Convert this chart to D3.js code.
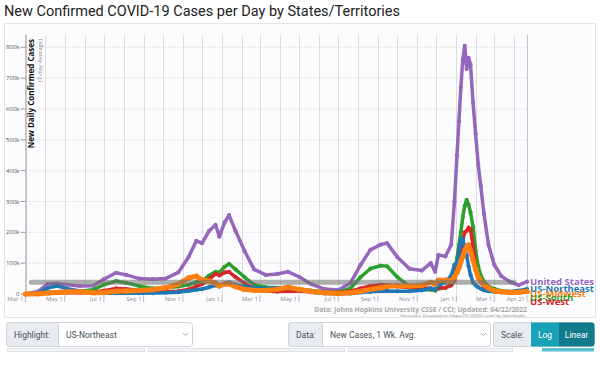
<!DOCTYPE html>
<html lang="en">
<head>
<meta charset="UTF-8">
<script src="https://cdn.jsdelivr.net/npm/d3@7"></script>
<style>
    body {margin: 0; background-color: #ffffff}
    svg {display: block}
    text {font-family: "Open Sans", sans-serif}
    .title {font-family: Roboto, sans-serif; font-size: 14.5px; fill: #222}
    .tick_label {font-size: 6px; fill: #8a8a8a}
    .y_tick_label {font-size: 6px; fill: #555}
    .legend_label {font-size: 9.5px; font-weight: bold}
    .ctrl_text {font-family: Roboto, sans-serif; font-size: 8.5px; fill: #495057}
</style>
</head>
<body>
<svg class="overall_chart" width="600" height="386"></svg>
<script type="text/javascript">
    // values in thousands of cases (7-day average)
    const dates = [
        "2020-03-01", "2020-03-20", "2020-04-05", "2020-04-20", "2020-05-05", "2020-05-25",
        "2020-06-15", "2020-07-01", "2020-07-20", "2020-08-05", "2020-08-25", "2020-09-15",
        "2020-10-05", "2020-10-25", "2020-11-10", "2020-11-22", "2020-12-01", "2020-12-12",
        "2020-12-22", "2020-12-28", "2021-01-05", "2021-01-12", "2021-01-22", "2021-02-05",
        "2021-02-20", "2021-03-10", "2021-03-28", "2021-04-14", "2021-05-01", "2021-05-20",
        "2021-06-10", "2021-07-01", "2021-07-20", "2021-08-05", "2021-08-20", "2021-09-05",
        "2021-09-15", "2021-10-01", "2021-10-20", "2021-11-08", "2021-11-22", "2021-11-29",
        "2021-12-04", "2021-12-15", "2021-12-24", "2021-12-29", "2022-01-02", "2022-01-05",
        "2022-01-08", "2022-01-11", "2022-01-14", "2022-01-17", "2022-01-20", "2022-01-23",
        "2022-01-27", "2022-01-31", "2022-02-04", "2022-02-08", "2022-02-13", "2022-02-20",
        "2022-03-01", "2022-03-12", "2022-03-25", "2022-04-08", "2022-04-21"
    ];
    const unitedStates = [
        0, 8, 33, 34, 30, 26, 27, 48, 69, 62, 50, 48,
        50, 70, 120, 172, 165, 205, 224, 186, 232, 256, 205, 140,
        80, 62, 65, 72, 56, 32, 16, 13, 35, 95, 143, 160,
        165, 120, 82, 76, 100, 72, 127, 122, 160, 300, 450, 560,
        670, 760, 805, 730, 766, 745, 620, 520, 420, 350, 260, 160,
        95, 58, 40, 29, 40
    ];
    const usNortheast = [
        0, 2, 20, 26, 17, 10, 4, 2.5, 2.5, 2.5, 2.5, 3,
        4, 6, 10, 14, 16, 22, 28, 24, 34, 38, 30, 24,
        20, 18, 20, 20, 13, 6, 2, 1, 2, 5, 7, 9,
        10, 9, 9, 12, 18, 14, 28, 38, 60, 95, 100, 135,
        175, 180, 150, 125, 90, 62, 38, 28, 22, 17, 12, 9,
        7, 6, 7, 11, 16
    ];
    const usMidwest = [
        0, 0.5, 3, 5, 7, 7, 4, 5, 9, 10, 11, 14,
        20, 32, 52, 58, 45, 42, 35, 27, 32, 33, 24, 15,
        12, 11, 15, 22, 15, 8, 4, 2, 4, 9, 15, 20,
        25, 27, 26, 28, 38, 32, 45, 45, 42, 55, 70, 85,
        105, 122, 140, 152, 159, 140, 110, 80, 56, 42, 30, 20,
        10, 7, 5, 6, 9
    ];
    const usSouth = [
        0, 1, 6, 7, 8, 9, 14, 30, 42, 36, 26, 18,
        20, 24, 30, 38, 42, 60, 72, 70, 88, 98, 80, 55,
        30, 22, 20, 20, 16, 11, 7, 6, 18, 55, 82, 92,
        90, 55, 25, 14, 14, 11, 17, 20, 35, 70, 115, 160,
        200, 250, 285, 305, 290, 265, 218, 140, 90, 60, 40, 25,
        17, 10, 8, 7, 7.5
    ];
    const usWest = [
        0, 1, 3, 4, 4, 4, 6, 11, 18, 16, 12, 8,
        7, 9, 15, 25, 32, 48, 65, 60, 70, 72, 55, 35,
        18, 10, 8, 9, 9, 7, 5, 5, 9, 18, 26, 30,
        30, 25, 20, 20, 18, 14, 20, 20, 28, 45, 78, 110,
        145, 175, 200, 205, 215, 210, 154, 90, 55, 38, 22, 12,
        8, 6, 5, 6, 6.5
    ];

    const seriesNames = ["United States", "US-South", "US-West", "US-Northeast", "US-Midwest"];
    const seriesColors = ["#9467bd", "#2ca02c", "#d62728", "#1f77b4", "#ff7f0e"];
    const seriesValues = [unitedStates, usSouth, usWest, usNortheast, usMidwest];

    const yTicks = [0, 100, 200, 300, 400, 500, 600, 700, 800];
    const yTickLabels = ["0", "100k", "200k", "300k", "400k", "500k", "600k", "700k", "800k"];
    const xTickDates = [
        "2020-03-01", "2020-05-01", "2020-07-01", "2020-09-01", "2020-11-01", "2021-01-01", "2021-03-01",
        "2021-05-01", "2021-07-01", "2021-09-01", "2021-11-01", "2022-01-01", "2022-03-01", "2022-04-21"
    ];
    const xTickLabels = [
        "Mar 1", "May 1", "Jul 1", "Sep 1", "Nov 1", "Jan 1", "Mar 1",
        "May 1", "Jul 1", "Sep 1", "Nov 1", "Jan 1", "Mar 1", "Apr 21"
    ];
    // grey reference band
    const bandDates = ["2020-03-10", "2022-04-01"];
    const bandValue = 38;

    const parse = d3.utcParse("%Y-%m-%d");

    function draw() {
        let left = 25.5, right = 527, top = 35, bottom = 294;
        var svg = d3.select(".overall_chart");

        svg.append('text').attr('class', 'title').attr('x', 4).attr('y', 16)
            .text('New Confirmed COVID-19 Cases per Day by States/Territories');

        // panel
        svg.append('rect').attr('x', 4.5).attr('y', 23.5).attr('width', 591).attr('height', 294)
            .attr('fill', '#fcfcfe').attr('stroke', '#e4e4e8');

        var x_range = d3.scaleUtc()
            .domain([parse(dates[0]), parse(dates[dates.length - 1])])
            .range([left, right]);
        var y_range = d3.scaleLinear()
            .domain([0, 840])
            .range([bottom, top]);

        // grid
        var grid = svg.append('g');
        grid.selectAll('.hgrid').data(yTicks.slice(1)).enter().append('line')
            .attr('x1', left).attr('x2', right)
            .attr('y1', d => y_range(d)).attr('y2', d => y_range(d))
            .attr('stroke', '#ececf0').attr('stroke-width', 1);
        var months = d3.utcMonth.range(parse("2020-04-01"), parse(dates[dates.length - 1]));
        grid.selectAll('.vgrid').data(months).enter().append('line')
            .attr('x1', d => Math.round(x_range(d)) + 0.5).attr('x2', d => Math.round(x_range(d)) + 0.5)
            .attr('y1', top).attr('y2', bottom)
            .attr('stroke', '#dcdce0').attr('stroke-width', 1);
        grid.append('line').attr('x1', right + 0.5).attr('x2', right + 0.5).attr('y1', top).attr('y2', bottom)
            .attr('stroke', '#c4c4c8');
        grid.append('line').attr('x1', left + 0.5).attr('x2', left + 0.5).attr('y1', top).attr('y2', bottom + 1)
            .attr('stroke', '#8f8f95');

        // y axis
        var yAxis = svg.append('g');
        yTicks.forEach(function (t, i) {
            yAxis.append('line').attr('x1', left - 5).attr('x2', left).attr('y1', y_range(t)).attr('y2', y_range(t))
                .attr('stroke', '#999');
            yAxis.append('text').attr('class', 'y_tick_label').attr('x', left - 6).attr('y', y_range(t))
                .attr('dy', '0.35em').attr('text-anchor', 'end').text(yTickLabels[i]);
        });
        yAxis.append('text').attr('transform', 'translate(' + (left + 8.5) + ',' + (top + 4) + ') rotate(-90)')
            .attr('text-anchor', 'end').attr('font-size', '8px').attr('font-weight', 'bold').attr('fill', '#111')
            .text('New Daily Confirmed Cases');
        yAxis.append('text').attr('transform', 'translate(' + (left + 16) + ',' + (top + 4) + ') rotate(-90)')
            .attr('text-anchor', 'end').attr('font-size', '6px').attr('fill', '#888')
            .text('(7-day Average)');

        // x axis
        var xAxis = svg.append('g');
        xTickDates.forEach(function (d, i) {
            let tx = x_range(parse(d));
            xAxis.append('line').attr('x1', tx).attr('x2', tx).attr('y1', bottom + 1).attr('y2', bottom + 8)
                .attr('stroke', '#aaa').attr('stroke-width', 0.8);
            xAxis.append('text').attr('class', 'tick_label').attr('x', tx - 2).attr('y', bottom + 6.5)
                .attr('text-anchor', 'end').text(xTickLabels[i]);
        });

        // series
        var line = d3.line()
            .x(d => x_range(d.date))
            .y(d => y_range(d.value));
        var lines = svg.append('g');
        seriesValues.forEach(function (values, s) {
            let data = values.map((v, i) => ({date: parse(dates[i]), value: v}));
            let g = lines.append('g');
            g.append('path').datum(data)
                .attr('d', line)
                .attr('fill', 'none')
                .attr('stroke', seriesColors[s])
                .attr('stroke-width', s === 4 ? 5 : 3.5)
                .attr('stroke-linejoin', 'round')
                .attr('stroke-linecap', 'round');
            g.selectAll('circle').data(data).enter().append('circle')
                .attr('cx', d => x_range(d.date))
                .attr('cy', d => y_range(d.value))
                .attr('r', s === 4 ? 2.6 : 2.1)
                .attr('fill', seriesColors[s]);
        });

        // grey band over the lines
        svg.append('line')
            .attr('x1', x_range(parse(bandDates[0]))).attr('x2', x_range(parse(bandDates[1])))
            .attr('y1', y_range(bandValue)).attr('y2', y_range(bandValue))
            .attr('stroke', '#6f6f6f').attr('stroke-width', 5).attr('opacity', 0.55)
            .attr('stroke-linecap', 'round');

        // labels at the end of each line, pushed apart (they overlap in the original too)
        let labels = seriesNames.map((n, s) => ({
            name: n, color: seriesColors[s],
            y: y_range(seriesValues[s][seriesValues[s].length - 1])
        }));
        labels.sort((a, b) => a.y - b.y);
        for (let i = 1; i < labels.length; i++) {
            if (labels[i].y < labels[i - 1].y + 4.2) labels[i].y = labels[i - 1].y + 4.2;
        }
        svg.append('g').selectAll('text').data(labels).enter().append('text')
            .attr('class', 'legend_label')
            .attr('x', right + 3).attr('y', d => d.y).attr('dy', '0.35em')
            .attr('fill', d => d.color).text(d => d.name);

        // source
        svg.append('text').attr('x', right).attr('y', 312).attr('text-anchor', 'end')
            .attr('font-size', '6.8px').attr('font-weight', 'bold').attr('fill', '#a8a8a8')
            .text('Data: Johns Hopkins University CSSE / CCI; Updated: 04/22/2022');
        svg.append('text').attr('x', right).attr('y', 317).attr('text-anchor', 'end')
            .attr('font-size', '4.3px').attr('fill', '#888')
            .text('Interactive Visualization: https://91-DIVOC.com/ by @profwade_');

        // controls
        function inputGroup(gx, gy, labelW, totalW, label, value) {
            let g = svg.append('g');
            g.append('rect').attr('x', gx + 0.5).attr('y', gy + 0.5).attr('width', totalW).attr('height', 24)
                .attr('rx', 3).attr('fill', '#fff').attr('stroke', '#ced4da');
            g.append('path')
                .attr('d', 'M' + (gx + 3.5) + ',' + (gy + 0.5) + 'H' + (gx + labelW + 0.5) + 'V' + (gy + 24.5) +
                    'H' + (gx + 3.5) + 'A3,3 0 0 1 ' + (gx + 0.5) + ',' + (gy + 21.5) + 'V' + (gy + 3.5) +
                    'A3,3 0 0 1 ' + (gx + 3.5) + ',' + (gy + 0.5) + 'Z')
                .attr('fill', '#e9ecef').attr('stroke', '#ced4da');
            g.append('text').attr('class', 'ctrl_text').attr('x', gx + 8).attr('y', gy + 15.5).text(label);
            if (value !== null) {
                g.append('text').attr('class', 'ctrl_text').attr('x', gx + labelW + 8).attr('y', gy + 15.5)
                    .text(value);
                g.append('path')
                    .attr('d', 'M' + (gx + totalW - 9) + ',' + (gy + 11) + 'l2.5,2.5l2.5,-2.5')
                    .attr('fill', 'none').attr('stroke', '#999').attr('stroke-width', 0.8);
            }
        }
        inputGroup(6, 322, 52, 186, 'Highlight:', 'US-Northeast');
        inputGroup(288, 322, 34, 202, 'Data:', 'New Cases, 1 Wk. Avg.');
        inputGroup(493, 322, 38, 101, 'Scale:', null);
        svg.append('rect').attr('x', 531).attr('y', 322.5).attr('width', 28).attr('height', 24).attr('fill', '#17a2b8');
        svg.append('path').attr('d', 'M559,322.5H591.5A3,3 0 0 1 594.5,325.5V343.5A3,3 0 0 1 591.5,346.5H559Z')
            .attr('fill', '#117a8b');
        svg.append('text').attr('class', 'ctrl_text').attr('x', 545).attr('y', 337.5).attr('text-anchor', 'middle')
            .style('fill', '#fff').text('Log');
        svg.append('text').attr('class', 'ctrl_text').attr('x', 576.5).attr('y', 337.5).attr('text-anchor', 'middle')
            .style('fill', '#fff').text('Linear');

        // second row, only the top edges show
        [[7, 137], [148, 196], [348, 164]].forEach(function (b) {
            svg.append('rect').attr('x', b[0] + 0.5).attr('y', 348.5).attr('width', b[1]).attr('height', 3)
                .attr('fill', '#f3f4f6').attr('stroke', '#dfe2e6');
        });
        svg.append('rect').attr('x', 542).attr('y', 348).attr('width', 52).attr('height', 3.5).attr('fill', '#5bc0d0');
    }
    draw();
</script>
</body>
</html>
